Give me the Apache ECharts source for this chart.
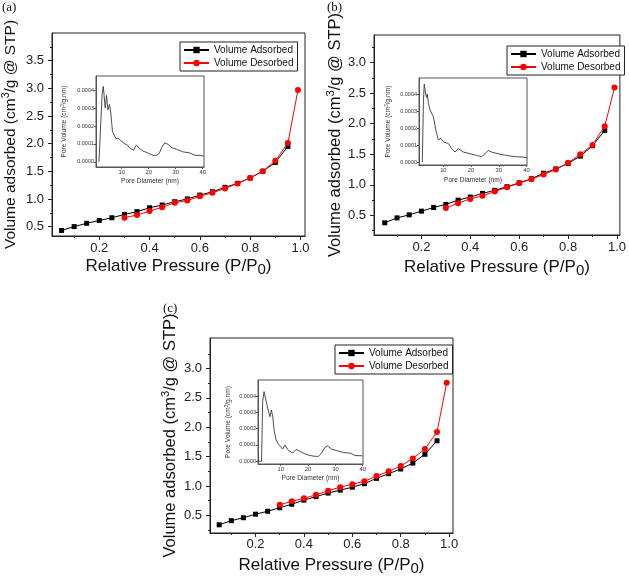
<!DOCTYPE html>
<html><head><meta charset="utf-8">
<script src="https://cdn.jsdelivr.net/npm/echarts@6/dist/echarts.min.js"></script>
<style>html,body{margin:0;padding:0;background:#fff}#c{width:629px;height:577px}</style>
</head><body><div id="c"></div>
<script>
// ---- data ----
const pressureAds = [0.05,0.10,0.15,0.20,0.25,0.30,0.35,0.40,0.45,0.50,0.55,0.60,0.65,0.70,0.75,0.80,0.85,0.90,0.95];
const pressureDes = [0.30,0.35,0.40,0.45,0.50,0.55,0.60,0.65,0.70,0.75,0.80,0.85,0.90,0.95,0.99];

const adsA = [0.43,0.50,0.56,0.61,0.66,0.72,0.77,0.84,0.89,0.95,1.00,1.07,1.13,1.21,1.28,1.38,1.50,1.66,1.95];
const desA = [0.66,0.71,0.78,0.85,0.93,0.97,1.05,1.11,1.19,1.28,1.38,1.50,1.69,2.01,2.97];
const adsB = [0.38,0.46,0.51,0.57,0.63,0.68,0.75,0.80,0.86,0.91,0.97,1.03,1.10,1.19,1.26,1.35,1.47,1.64,1.89];
const desB = [0.62,0.70,0.77,0.82,0.89,0.96,1.03,1.09,1.17,1.25,1.36,1.50,1.65,1.96,2.59];
const adsC = [0.34,0.41,0.46,0.52,0.57,0.63,0.69,0.76,0.82,0.88,0.93,0.98,1.04,1.13,1.21,1.29,1.39,1.54,1.77];
const desC = [0.68,0.74,0.79,0.85,0.92,0.98,1.03,1.08,1.17,1.25,1.34,1.47,1.63,1.92,2.76];

const poreDiamA = [1.6,2.2,2.8,3.2,3.5,3.9,4.4,4.9,5.5,6.0,6.6,7.2,7.9,8.4,8.9,9.8,10.4,11.0,11.6,12.2,12.8,13.5,14.4,15.4,16.6,17.9,19.7,21.6,22.9,23.9,24.8,26.0,27.2,28.5,30.4,32.8,35.3,37.2,39.1,40.5];
const poreVolA  = [0,0.00020,0.00038,0.00042,0.00037,0.00030,0.00037,0.00029,0.00032,0.00027,0.00017,0.00015,0.00013,0.00014,0.00013,0.000117,0.00011,0.000103,0.00010,0.000093,0.00008,0.00007,0.000065,0.000093,0.000075,0.000061,0.00005,0.000037,0.000036,0.000047,0.00008,0.000106,0.000098,0.00008,0.00007,0.000056,0.00005,0.000037,0.000037,0.000032];
const poreDiamB = [2.4,2.8,3.1,3.6,4.0,4.2,4.6,5.2,5.8,6.4,7.4,8.2,9.1,10.0,10.6,11.8,13.0,14.2,15.4,17.2,19.6,22.0,23.8,25.0,26.2,27.4,29.8,32.8,35.8,38.8,40.2];
const poreVolB  = [0,0.00036,0.000458,0.0004,0.00038,0.0004,0.000346,0.000306,0.0003,0.000267,0.00018,0.000131,0.00014,0.00012,0.00012,0.00011,0.00008,0.00006,0.00008,0.00006,0.00005,0.00004,0.000033,0.00005,0.00007,0.00006,0.00005,0.00004,0.000033,0.00003,0.000025];
const poreDiamC = [1.8,3.0,3.4,3.9,4.3,4.6,5.1,5.6,6.1,6.6,7.1,7.6,8.3,9.1,10.0,10.7,11.6,12.4,13.4,14.4,15.6,17.1,18.9,20.7,22.6,23.8,25.0,26.2,27.1,28.7,30.5,33.0,35.4,37.2,40.0];
const poreVolC  = [0,0,0.000365,0.000427,0.000416,0.000375,0.000365,0.0003,0.000273,0.000314,0.000273,0.00019,0.00013,0.000106,0.00009,0.000075,0.0001,0.000075,0.00006,0.00005,0.000073,0.00006,0.000045,0.000035,0.00003,0.00003,0.00005,0.000086,0.000094,0.000073,0.000065,0.000053,0.00005,0.000035,0.000033];

const xTicks = [0.2,0.4,0.6,0.8,1.0];
const xMinorTicks = [0.1,0.3,0.5,0.7,0.9];
const yTicksA = [0.5,1.0,1.5,2.0,2.5,3.0,3.5];
const yMinorA = [0.75,1.25,1.75,2.25,2.75,3.25,3.75];
const yTicksBC = [0.5,1.0,1.5,2.0,2.5,3.0];
const yMinorBC = [0.25,0.75,1.25,1.75,2.25,2.75,3.25];
const insetXTicks = [10,20,30,40];
const insetYTicks = [0,0.0001,0.0002,0.0003,0.0004];
const panelLabels = ['(a)','(b)','(c)'];
const legendNames = ['Volume Adsorbed','Volume Desorbed'];

// ---- layout ----
const FONT = 'Liberation Sans';
const panels = [
  {ads:adsA, des:desA, d:poreDiamA, v:poreVolA, yT:yTicksA, yM:yMinorA,
   grid:{left:52,top:33,width:253,height:203}, inset:{left:96,top:76,width:108,height:91},
   xr:[0.012,1.018], yr:[0.33,4.0], ixr:[0.5,40.5], iyr:[-0.000028,0.000478],
   legend:{left:180,top:42}, label:{left:2,top:1}, yGap:31, xGap:19, yFont:15.5, xMargin:6, iyGap:27, ixGap:11},
  {ads:adsB, des:desB, d:poreDiamB, v:poreVolB, yT:yTicksBC, yM:yMinorBC,
   grid:{left:374,top:35,width:249,height:200}, inset:{left:419,top:78,width:108,height:87},
   xr:[0.006,1.012], yr:[0.18,3.45], ixr:[1.2,40.2], iyr:[-0.000016,0.000494],
   legend:{left:507,top:46}, label:{left:327,top:1}, yGap:25, xGap:21, yFont:16.5, xMargin:6, iyGap:26, ixGap:12},
  {ads:adsC, des:desC, d:poreDiamC, v:poreVolC, yT:yTicksBC, yM:yMinorBC,
   grid:{left:210,top:338,width:243,height:198}, inset:{left:258,top:380,width:105,height:84},
   xr:[0.012,1.016], yr:[0.2,3.52], ixr:[1.7,40.1], iyr:[-0.000017,0.000498],
   legend:{left:335,top:345}, label:{left:163,top:302}, yGap:30, xGap:21, yFont:16.5, xMargin:5, iyGap:25, ixGap:11}
];

const grids=[], xAxes=[], yAxes=[], series=[], legends=[], titles=[];
const AX = '#222';
panels.forEach((P,k)=>{
  // main grid
  const gi = grids.length;
  grids.push(Object.assign({show:true,borderColor:AX,borderWidth:1,backgroundColor:'transparent'}, P.grid));
  const xi = xAxes.length;
  xAxes.push({type:'value',gridIndex:gi,position:'bottom',min:P.xr[0],max:P.xr[1],
    name:'{a|Relative Pressure (P/P}{b|0}{a|)}',nameLocation:'middle',nameGap:P.xGap,
    nameTextStyle:{rich:{
      a:{fontFamily:FONT,fontSize:17,color:'#111',lineHeight:22,verticalAlign:'middle'},
      b:{fontFamily:FONT,fontSize:15,color:'#111',lineHeight:15,verticalAlign:'bottom'}}},
    axisLine:{show:true,onZero:false,lineStyle:{color:AX,width:1}},
    axisTick:{show:true,customValues:xTicks,length:4,lineStyle:{color:AX}},
    axisLabel:{customValues:xTicks,formatter:v=>v.toFixed(1),fontFamily:FONT,fontSize:13,color:AX,margin:P.xMargin},
    splitLine:{show:false}});
  xAxes.push({type:'value',gridIndex:gi,position:'bottom',offset:0,min:P.xr[0],max:P.xr[1],
    axisLine:{show:false,onZero:false},axisTick:{show:true,customValues:xMinorTicks,length:2,lineStyle:{color:AX}},
    axisLabel:{show:false},splitLine:{show:false}});
  const yi = yAxes.length;
  yAxes.push({type:'value',gridIndex:gi,position:'left',min:P.yr[0],max:P.yr[1],
    name:'{a|Volume adsorbed (cm}{s|3}{a|/g @ STP)}',nameLocation:'middle',nameGap:P.yGap,
    nameTextStyle:{rich:{
      a:{fontFamily:FONT,fontSize:P.yFont,color:'#111',lineHeight:20,verticalAlign:'middle'},
      s:{fontFamily:FONT,fontSize:P.yFont*0.68,color:'#111',lineHeight:11,verticalAlign:'top'}}},
    axisLine:{show:true,onZero:false,lineStyle:{color:AX,width:1}},
    axisTick:{show:true,customValues:P.yT,length:4,lineStyle:{color:AX}},
    axisLabel:{customValues:P.yT,formatter:v=>v.toFixed(1),fontFamily:FONT,fontSize:13,color:AX,margin:8},
    splitLine:{show:false}});
  yAxes.push({type:'value',gridIndex:gi,position:'left',offset:0,min:P.yr[0],max:P.yr[1],
    axisLine:{show:false,onZero:false},axisTick:{show:true,customValues:P.yM,length:2,lineStyle:{color:AX}},
    axisLabel:{show:false},splitLine:{show:false}});
  series.push({type:'line',name:legendNames[0],xAxisIndex:xi,yAxisIndex:yi,
    data:pressureAds.map((x,i)=>[x,P.ads[i]]),symbol:'rect',symbolSize:5,
    lineStyle:{color:'#000',width:1},itemStyle:{color:'#000'},z:2,animation:false});
  series.push({type:'line',name:legendNames[1],xAxisIndex:xi,yAxisIndex:yi,
    data:pressureDes.map((x,i)=>[x,P.des[i]]),symbol:'circle',symbolSize:6,
    lineStyle:{color:'#ff0000',width:1},itemStyle:{color:'#ff0000'},z:3,animation:false});

  // inset grid
  const ig = grids.length;
  grids.push(Object.assign({show:true,borderColor:'#555',borderWidth:1,backgroundColor:'#fff'}, P.inset));
  const ixi = xAxes.length;
  xAxes.push({type:'value',gridIndex:ig,position:'bottom',min:P.ixr[0],max:P.ixr[1],
    name:'Pore Diameter (nm)',nameLocation:'middle',nameGap:P.ixGap,
    nameTextStyle:{fontFamily:FONT,fontSize:6.6,color:'#333'},
    axisLine:{show:true,onZero:false,lineStyle:{color:'#555',width:1}},
    axisTick:{show:true,customValues:insetXTicks,length:2,lineStyle:{color:'#555'}},
    axisLabel:{customValues:insetXTicks,fontFamily:FONT,fontSize:5.8,color:'#333',margin:2},
    splitLine:{show:false}});
  const iyi = yAxes.length;
  yAxes.push({type:'value',gridIndex:ig,position:'left',min:P.iyr[0],max:P.iyr[1],
    name:'{a|Pore Volume (cm}{s|3}{a|/g.nm)}',nameLocation:'middle',nameGap:P.iyGap,
    nameTextStyle:{rich:{
      a:{fontFamily:FONT,fontSize:6.6,color:'#333',lineHeight:9,verticalAlign:'middle'},
      s:{fontFamily:FONT,fontSize:4.6,color:'#333',lineHeight:5,verticalAlign:'top'}}},
    axisLine:{show:true,onZero:false,lineStyle:{color:'#555',width:1}},
    axisTick:{show:true,customValues:insetYTicks,length:2,lineStyle:{color:'#555'}},
    axisLabel:{customValues:insetYTicks,formatter:v=>v.toFixed(4),fontFamily:FONT,fontSize:5.5,color:'#333',margin:2},
    splitLine:{show:false}});
  series.push({type:'line',xAxisIndex:ixi,yAxisIndex:iyi,
    data:P.d.map((x,i)=>[x,P.v[i]]),symbol:'none',silent:true,
    lineStyle:{color:'#3a3a3a',width:0.9},z:5,animation:false});

  legends.push({show:true,orient:'vertical',left:P.legend.left,top:P.legend.top,
    data:legendNames,itemWidth:25,itemHeight:8,itemGap:3,padding:[3,4,3,3],
    borderColor:AX,borderWidth:1,backgroundColor:'#fff',selectedMode:false,
    textStyle:{fontFamily:FONT,fontSize:10,color:'#111'}});
  titles.push({text:panelLabels[k],left:P.label.left,top:P.label.top,padding:0,
    textStyle:{fontFamily:'Liberation Serif',fontSize:13,fontWeight:'normal',color:'#111'}});
});

const chart = echarts.init(document.getElementById('c'), null, {renderer:'canvas'});
chart.setOption({animation:false,backgroundColor:'#fff',title:titles,legend:legends,
  grid:grids,xAxis:xAxes,yAxis:yAxes,series:series,tooltip:{show:false}});
</script></body></html>
